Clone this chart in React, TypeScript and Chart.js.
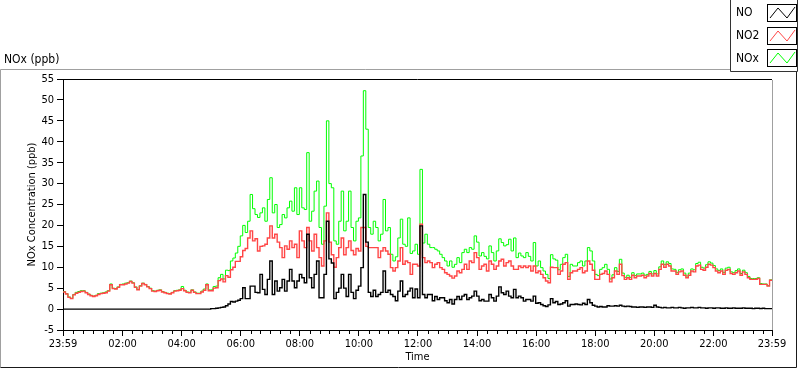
import React, { useEffect, useRef } from "react";
import { Chart, registerables } from "chart.js";

Chart.register(...registerables);

// Sampling interval of the series (minutes after 23:59 of the previous day)
const SAMPLE_MINUTES = 5;

// NO (ppb)
const NO_VALUES = [
  0, 0, 0, 0, 0, 0, 0, 0, 0, 0,
  0, 0, 0, 0, 0, 0, 0, 0, 0, 0,
  0, 0, 0, 0, 0, 0, 0, 0, 0, 0,
  0, 0, 0, 0, 0, 0, 0, 0, 0, 0,
  0, 0, 0, 0, 0, 0, 0, 0, 0, 0,
  0, 0, 0, 0, 0, 0, 0, 0, 0, 0,
  0,
  0.1, 0.1, 0.2, 0.3, 0.4, 0.5, 0.8, 1.2, 1.8, 1.7, 1.9, 2.1,
  2.5, 5.1, 2.5, 2.5, 5.5, 5.5, 4.0, 3.9, 8.3, 4.7, 3.5, 7.1, 11.5, 3.5, 6.7, 4.3, 5.1, 7.1,
  4.3, 6.7, 9.5, 6.7, 5.1, 6.7, 8.3, 7.5, 6.3, 17.9, 7.5, 5.1, 8.3, 11.5, 2.7, 2.7, 8.3, 21,
  12, 11, 2.5, 4, 5, 8.3, 5, 3, 8.3, 4, 2.5, 4.5, 5.5, 9.9, 27.4, 16, 4, 3, 4.5, 3, 3.5, 4,
  9.1, 4, 4.5, 3.5, 3, 2, 4.3, 6.7, 3, 3.5, 4.3, 5, 2.7, 4.8, 2.7, 19.9, 3.5, 2.7, 3.5, 3.5,
  2, 3, 2.3, 2.7, 2.7, 2, 1.5,
  2.3, 1.2, 2.3, 3, 2.3, 3.1, 3.5, 2.3, 2.7, 3.1, 4.3, 3.1, 2, 2.3, 1.9, 1.9, 3.5, 2.7, 1.9,
  3.1, 5.3, 3.9, 3.5, 4.3, 3.1, 2.7, 4.7, 2.7, 3.1, 2.7, 1.9, 2.3, 2.3, 1.9, 3.1, 1.4, 1.5,
  1.1, 0.8, 0.6, 1, 2.5, 1.5, 1.8, 1.1, 1.2, 1.5, 2, 0.7, 1.1, 1.1, 1.2, 1.1, 1, 1.4, 1.1,
  2.3, 1.5, 0.9, 0.7, 0.5, 0.6, 0.5, 0.5, 0.8,
  0.7, 0.7, 0.8, 0.7, 0.9, 0.7, 0.6, 0.7, 0.6, 0.5,
  0.5, 0.4, 0.5, 0.5, 0.4, 0.5, 0.5, 0.4, 0.9, 0.5,
  0.4, 0.3, 0.4, 0.3, 0.3, 0.4, 0.3, 0.3, 0.4, 0.3,
  0.2, 0.3, 0.3, 0.4, 0.3, 0.3, 0.4, 0.3, 0.3, 0.2,
  0.3, 0.3, 0.2, 0.3, 0.3, 0.2, 0.2, 0.3, 0.2, 0.2,
  0.3, 0.2, 0.2, 0.2, 0.3, 0.2, 0.2, 0.2, 0.1, 0.2,
  0.2, 0.1, 0.2, 0.1, 0.1, 0.1,
];

// NO2 (ppb)
const NO2_VALUES = [
  4.1, 4.1, 3.6, 2.8, 2.5, 3.4, 3.8, 4.0, 4.2, 4.3,
  3.9, 3.5, 3.2, 3.0, 3.2, 3.5, 3.7, 3.8, 3.9, 4.3,
  5.8, 4.9, 4.8, 5.2, 5.8, 5.8, 6.0, 6.2, 6.6, 6.2,
  5.2, 4.6, 5.5, 6.1, 5.8, 5.3, 4.9, 4.3, 4.2, 4.4,
  4.5, 4.1, 3.9, 3.7, 3.6, 3.9, 4.3, 4.4, 4.5, 4.9,
  4.4, 4.0, 3.9, 4.5, 4.0, 3.7, 3.7, 4.1, 4.5, 5.8,
  4.4, 4.4, 5.0, 5.1, 6.8, 7.2, 6.5, 8.0, 7.6, 9.4,
  10.0, 11.4, 11.4,
  12.5, 14, 14.5, 17, 18.7, 16.3, 16.8, 13.9, 15, 15.1, 15.5, 17, 19.9, 17, 17.9, 16, 14.7, 12.3,
  15.1, 14.3, 16.3, 14.7, 15.5, 12.3, 18.7, 16.3, 14.7, 19.5, 16.3, 13.9, 17.9, 14.7, 12.3, 10.3, 16.3, 23,
  16, 13, 10, 12.3, 14.7, 17, 13, 14.7, 16.3, 14, 13, 14.5, 13.9, 19.5, 19.5, 15, 14.7, 14.7,
  14.7, 14.7, 12.3, 13.9, 14.7, 13.9, 13.1, 9.9, 9.1, 9.9, 11.5, 14.7, 10.7, 11.5, 11.1, 8.3,
  10.7, 10.7, 10.3, 20.3, 12.3, 11.1, 11.5, 11.1, 9.9, 10.7, 11.1, 9.9, 9.5, 8.7, 8.3,
  7.9, 7.4, 7.9, 9.1, 8.7, 9.5, 10.7, 9.5, 11.5, 11.1, 13.5, 12.3, 9.5, 10.3, 10.7, 9.1, 11.5,
  10.7, 9.5, 10.3, 11.5, 11.9, 10.3, 11.1, 11.5, 10.3, 9.5, 9.5, 10.3, 9.9, 10.3, 9.9, 10.3,
  9.1, 10.3, 8.7, 9.1, 8.3, 7.5, 6.7, 6.3, 10, 9.9, 9.9, 8.3, 9.1, 10.7, 11.1, 7.1, 8.7, 9.1,
  9.1, 9.5, 9.9, 8.7, 9.1, 11.5, 10.7, 9.3, 7.1, 7.1, 8.3, 8.5, 9.1, 8.3,
  6.5, 7.5, 9.1, 8.3, 10.7, 8, 7.1, 7.5, 7.1, 8.1,
  7.5, 7.9, 7.9, 8.1, 7.5, 7.9, 8.5, 7.9, 8.5, 7.9,
  9.5, 10.7, 10, 10.7, 10.3, 9.1, 9.1, 8.3, 8.9, 9.1,
  8.1, 7.5, 8.1, 9.1, 8.9, 10.3, 10.5, 9.5, 9.3, 10,
  10.7, 10.5, 9.9, 9.1, 8.7, 9.1, 8.3, 9.3, 9.5, 8.5,
  8.3, 8.7, 9.1, 8.1, 8.9, 8.3, 7.5, 7.1, 7.1, 7.1,
  7.3, 5.9, 5.9, 5.9, 5.5, 6.9,
];

// NOx (ppb)
const NOX_VALUES = [
  4.3, 4.2, 3.7, 2.9, 2.6, 3.5, 4.0, 4.2, 4.4, 4.4,
  4.0, 3.6, 3.3, 3.1, 3.3, 3.7, 3.8, 3.9, 4.1, 4.4,
  6.0, 5.0, 4.9, 5.3, 5.9, 6.0, 6.2, 6.3, 6.7, 6.3,
  5.3, 4.7, 5.6, 6.2, 5.9, 5.4, 5.0, 4.4, 4.3, 4.5,
  4.6, 4.2, 4.0, 3.8, 3.7, 4.0, 4.4, 4.5, 4.6, 5.4,
  4.5, 4.1, 4.0, 4.6, 4.1, 3.8, 3.8, 4.3, 4.8, 6.0,
  4.6,
  4.6, 5.4, 5.5, 7.5, 8.3, 7.2, 9.3, 9.2, 11.5, 12.2, 13.4, 15.0,
  17.5, 20, 18.3, 21, 27.4, 24, 22.6, 21.9, 23, 24.2, 21, 26.2, 31.4, 23, 25, 19.5, 20.2, 22.6,
  21.8, 24.2, 25.8, 23.4, 29, 22.6, 29, 24.2, 23.8, 37.4, 21, 23.4, 28.2, 30.6, 19.5, 15.5, 24.6, 45,
  30, 29, 16.3, 15.5, 21, 28.2, 18.7, 21, 28.2, 19.5, 16.3, 21, 21.8, 36.6, 52.2, 43, 19.5, 17.9,
  21, 19.5, 16.3, 17.9, 26.2, 18.7, 19.5, 13.1, 11.5, 12.5, 17, 21.5, 15.5, 15, 21.8, 13.3,
  13.9, 15.5, 13.1, 33.4, 15.8, 17.9, 15.5, 14.7, 14.7, 14.3, 13.9, 13.1, 12.3, 11.5, 10.3,
  11.5, 10, 10.7, 12.3, 11.1, 13.5, 14.3, 13.5, 14.7, 14.3, 17.5, 16, 12.7, 13.5, 12.6, 12, 15.1,
  13.5, 11.5, 13.9, 16.8, 15.9, 15.1, 15.4, 16.7, 13.9, 17, 12.3, 13.4, 12.7, 12.3, 13.5, 12.6,
  11.5, 15.9, 10.3, 11.5, 9.9, 9.1, 8.3, 7.3, 13, 12, 11.7, 9.4, 10.7, 12.3, 13.1, 7.8, 10.7, 10.3,
  10.3, 11.1, 11.5, 10.3, 11.5, 14.7, 13.9, 11.5, 8.3, 8, 9.5, 9.9, 10.7, 9.5,
  7.2, 8.2, 9.9, 9.0, 11.9, 8.6, 7.6, 8.1, 7.6, 8.7,
  8.0, 8.4, 8.4, 8.6, 8.1, 8.3, 9.0, 8.4, 9.2, 8.4,
  10.1, 11.5, 10.6, 11.3, 10.9, 9.6, 9.5, 8.7, 9.4, 9.6,
  8.6, 7.9, 8.6, 9.6, 9.4, 10.9, 11.2, 10.0, 9.8, 10.6,
  11.3, 11.0, 10.4, 9.6, 9.2, 9.6, 8.7, 9.8, 10.0, 8.9,
  8.7, 9.2, 9.6, 8.5, 9.3, 8.7, 7.8, 7.3, 7.3, 7.3,
  7.5, 6.1, 6.0, 6.0, 5.6, 7.0,
];

// X axis: minutes after the 23:59 start, and their labels
const TIME_TICK_MINUTES = [0, 121, 241, 361, 481, 601, 721, 841, 961, 1081, 1201, 1321, 1440];
const TIME_TICK_LABELS = ["23:59", "02:00", "04:00", "06:00", "08:00", "10:00", "12:00", "14:00", "16:00", "18:00", "20:00", "22:00", "23:59"];
const MINOR_TICK_STEP = 20;
const Y_TICKS = [-5, 0, 5, 10, 15, 20, 25, 30, 35, 40, 45, 50, 55];

const SERIES_NAMES = ["NO", "NO2", "NOx"];
const SERIES_COLORS = ["#000000", "#ff4646", "#00ff00"];
const SERIES_WIDTHS = [1.4, 1.4, 1];

const FONT = "'DejaVu Sans Condensed', 'Liberation Sans', Arial, sans-serif";

function toPoints(values: number[]) {
  return values.map((v, i) => ({ x: i * SAMPLE_MINUTES, y: v }));
}

const decorPlugin = {
  id: "decor",
  beforeDraw(chart: any) {
    const ctx = chart.ctx;
    ctx.save();
    ctx.fillStyle = "#ffffff";
    ctx.fillRect(0, 0, chart.width, chart.height);
    // outer sunken frame
    ctx.lineWidth = 1;
    ctx.strokeStyle = "#a0a0a0";
    ctx.beginPath();
    ctx.moveTo(0.5, 367.5);
    ctx.lineTo(0.5, 69.5);
    ctx.lineTo(731, 69.5);
    ctx.stroke();
    ctx.strokeStyle = "#1a1a1a";
    ctx.beginPath();
    ctx.moveTo(0.5, 367.5);
    ctx.lineTo(796.5, 367.5);
    ctx.lineTo(796.5, 71);
    ctx.stroke();
    ctx.restore();
  },
  afterDraw(chart: any) {
    const ctx = chart.ctx;
    const area = chart.chartArea;
    const xs = chart.scales.x;
    ctx.save();
    ctx.lineWidth = 1;
    // plot frame: top black, right gray
    ctx.strokeStyle = "#000000";
    ctx.beginPath();
    ctx.moveTo(area.left, Math.round(area.top) + 0.5);
    ctx.lineTo(area.right, Math.round(area.top) + 0.5);
    ctx.stroke();
    ctx.strokeStyle = "#a0a0a0";
    ctx.beginPath();
    ctx.moveTo(Math.round(area.right) + 0.5, area.top + 1);
    ctx.lineTo(Math.round(area.right) + 0.5, area.bottom);
    ctx.stroke();
    // minor x ticks (every 20 min on the clock)
    ctx.strokeStyle = "#000000";
    const first = TIME_TICK_MINUTES[1] % MINOR_TICK_STEP;
    for (let m = first; m < xs.max; m += MINOR_TICK_STEP) {
      if (TIME_TICK_MINUTES.indexOf(m) >= 0) continue;
      const px = Math.round(xs.getPixelForValue(m)) + 0.5;
      ctx.beginPath();
      ctx.moveTo(px, area.bottom);
      ctx.lineTo(px, area.bottom + 4);
      ctx.stroke();
    }
    // "NOx (ppb)" caption
    ctx.fillStyle = "#000000";
    ctx.font = "12px " + FONT;
    ctx.textBaseline = "alphabetic";
    ctx.textAlign = "left";
    ctx.fillText("NOx (ppb)", 4, 62.5);
    // legend box
    ctx.fillStyle = "#ffffff";
    ctx.fillRect(730, 0, 67, 72);
    ctx.strokeStyle = "#333333";
    ctx.beginPath();
    ctx.moveTo(730.5, 0);
    ctx.lineTo(730.5, 71.5);
    ctx.lineTo(797.5, 71.5);
    ctx.lineTo(797.5, 0);
    ctx.stroke();
    for (let i = 0; i < SERIES_NAMES.length; i++) {
      const top = 4 + i * 22.7;
      ctx.fillStyle = "#000000";
      ctx.font = "12px " + FONT;
      ctx.textBaseline = "middle";
      ctx.fillText(SERIES_NAMES[i], 736, top + 9);
      const sx = 767, sw = 29, sh = 17;
      const y0 = Math.round(top);
      ctx.fillStyle = "#ffffff";
      ctx.fillRect(sx, y0, sw, sh);
      ctx.strokeStyle = "#000000";
      ctx.lineWidth = 1;
      ctx.strokeRect(sx + 0.5, y0 + 0.5, sw, sh);
      ctx.strokeStyle = SERIES_COLORS[i];
      ctx.beginPath();
      ctx.moveTo(sx + 3, y0 + 14);
      ctx.lineTo(sx + 11, y0 + 4);
      ctx.lineTo(sx + 20, y0 + 14);
      ctx.lineTo(sx + 28, y0 + 3);
      ctx.stroke();
    }
    ctx.restore();
  },
};

export default function App() {
  const canvasRef = useRef<HTMLCanvasElement | null>(null);

  useEffect(() => {
    if (!canvasRef.current) return;
    const series = [NO_VALUES, NO2_VALUES, NOX_VALUES];
    const chart = new Chart(canvasRef.current, {
      type: "line",
      data: {
        datasets: series.map((vals, i) => ({
          label: SERIES_NAMES[i],
          data: toPoints(vals),
          borderColor: SERIES_COLORS[i],
          backgroundColor: SERIES_COLORS[i],
          borderWidth: SERIES_WIDTHS[i],
          pointRadius: 0,
          stepped: "after" as const,
          fill: false,
        })),
      },
      options: {
        animation: false,
        responsive: false,
        maintainAspectRatio: false,
        layout: { padding: { left: 0, top: 79, right: 28, bottom: 0 } },
        plugins: {
          legend: { display: false },
          tooltip: { enabled: false },
        },
        scales: {
          x: {
            type: "linear",
            min: 0,
            max: 1440,
            afterBuildTicks: (scale: any) => {
              scale.ticks = TIME_TICK_MINUTES.map((v) => ({ value: v }));
            },
            afterFit: (scale: any) => {
              scale.height = 39;
            },
            grid: {
              drawOnChartArea: false,
              drawTicks: true,
              tickLength: 6,
              tickColor: "#000000",
            },
            border: { display: true, color: "#000000", width: 1 },
            ticks: {
              autoSkip: false,
              maxRotation: 0,
              padding: 2,
              color: "#000000",
              font: { family: FONT, size: 11 },
              callback: (value: any) => {
                const idx = TIME_TICK_MINUTES.indexOf(Number(value));
                return idx >= 0 ? TIME_TICK_LABELS[idx] : "";
              },
            },
            title: {
              display: true,
              text: "Time",
              color: "#000000",
              font: { family: FONT, size: 11 },
              padding: { top: 0, bottom: 5 },
            },
          },
          y: {
            type: "linear",
            min: -5,
            max: 55,
            afterBuildTicks: (scale: any) => {
              scale.ticks = Y_TICKS.map((v) => ({ value: v }));
            },
            afterFit: (scale: any) => {
              scale.width = 63;
            },
            grid: {
              drawOnChartArea: false,
              drawTicks: true,
              tickLength: 6,
              tickColor: "#000000",
            },
            border: { display: true, color: "#000000", width: 1 },
            ticks: {
              padding: 3,
              color: "#000000",
              font: { family: FONT, size: 11 },
            },
            title: {
              display: true,
              text: "NOx Concentration (ppb)",
              color: "#000000",
              font: { family: FONT, size: 11 },
              padding: { top: 26, bottom: 0 },
            },
          },
        },
      },
      plugins: [decorPlugin],
    });
    return () => chart.destroy();
  }, []);

  return (
    <div style={{ position: "absolute", left: 0, top: 0, width: 800, height: 369, background: "#fff" }}>
      <canvas ref={canvasRef} width={800} height={369} style={{ width: 800, height: 369, display: "block" }} />
    </div>
  );
}
